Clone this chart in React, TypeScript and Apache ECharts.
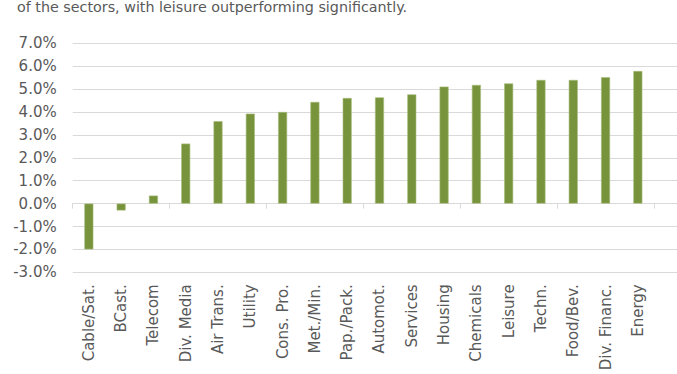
import React, { useEffect, useRef } from "react";
import * as echarts from "echarts";

const categories = [
  "Cable/Sat.", "BCast.", "Telecom", "Div. Media", "Air Trans.", "Utility",
  "Cons. Pro.", "Met./Min.", "Pap./Pack.", "Automot.", "Services", "Housing",
  "Chemicals", "Leisure", "Techn.", "Food/Bev.", "Div. Financ.", "Energy",
];
const values = [
  -2.0, -0.3, 0.35, 2.62, 3.6, 3.93, 4.0, 4.44, 4.61, 4.64, 4.77, 5.11,
  5.18, 5.25, 5.4, 5.4, 5.52, 5.79,
];
const yMin = -3;
const yMax = 7;
const yStep = 1;
const titleText = "of the sectors, with leisure outperforming significantly.";

const FONT = "Verdana, 'DejaVu Sans', sans-serif";
const TEXT = "#595959";
const GRID = "#d9d9d9";

export default function App() {
  const ref = useRef<HTMLDivElement>(null);
  useEffect(() => {
    const chart = echarts.init(ref.current!, null, { renderer: "svg" });
    const gridPos = { top: 43.3, bottom: 101.7 };
    chart.setOption({
      animation: false,
      title: {
        text: titleText,
        left: 17,
        top: 0,
        padding: 0,
        textStyle: { fontFamily: FONT, fontSize: 14.3, fontWeight: "normal", color: TEXT },
      },
      grid: [
        { left: 72.7, right: 23, ...gridPos, containLabel: false },
        { left: 654, right: 0, ...gridPos, containLabel: false },
      ],
      xAxis: [
        {
          type: "category",
          gridIndex: 0,
          data: categories,
          position: "bottom",
          axisLine: { onZero: true, lineStyle: { color: GRID, width: 1 } },
          axisTick: { show: true, length: 5, lineStyle: { color: GRID } },
          axisLabel: { show: false },
        },
        {
          type: "category",
          gridIndex: 0,
          data: categories,
          position: "bottom",
          axisLine: { show: false, onZero: false },
          axisTick: { show: false },
          axisLabel: {
            show: true,
            rotate: 90,
            margin: 12,
            interval: 0,
            fontFamily: FONT,
            fontSize: 15,
            color: TEXT,
          },
        },
        { type: "value", gridIndex: 1, show: false, min: 0, max: 1 },
      ],
      yAxis: [
        {
          type: "value",
          gridIndex: 0,
          min: yMin,
          max: yMax,
          interval: yStep,
          axisLine: { show: false },
          axisTick: { show: false },
          splitLine: { show: true, lineStyle: { color: GRID, width: 1 } },
          axisLabel: {
            fontFamily: FONT,
            fontSize: 15,
            color: TEXT,
            margin: 16,
            formatter: (v: number) => v.toFixed(1) + "%",
          },
        },
        {
          type: "value",
          gridIndex: 1,
          min: yMin,
          max: yMax,
          interval: yStep,
          axisLine: { show: false },
          axisTick: { show: false },
          axisLabel: { show: false },
          splitLine: { show: true, lineStyle: { color: GRID, width: 1 } },
        },
      ],
      series: [
        {
          type: "bar",
          xAxisIndex: 0,
          yAxisIndex: 0,
          data: values,
          barWidth: 9,
          itemStyle: { color: "#77933c", borderColor: "#a7bd7c", borderWidth: 0.6 },
        },
      ],
    });
    return () => chart.dispose();
  }, []);
  return (
    <div
      ref={ref}
      style={{ position: "fixed", left: 0, top: 0, width: 677, height: 374, background: "#fff" }}
    />
  );
}
